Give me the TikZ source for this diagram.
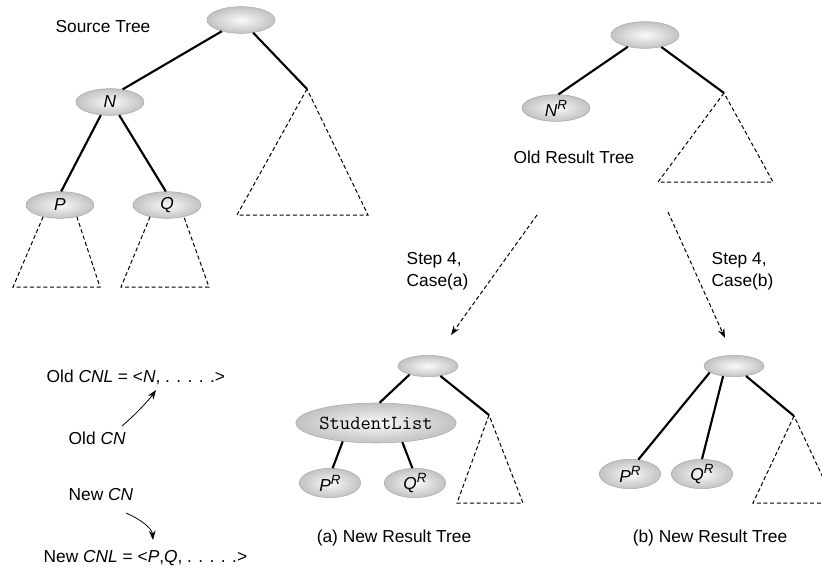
\documentclass[tikz,border=0pt]{standalone}
\usepackage{fontspec}
\setmainfont{Liberation Sans}
\usepackage{tikz}
\usetikzlibrary{shapes.geometric,arrows.meta}

\newcommand{\rsup}[1]{\raisebox{0.75ex}{\fontsize{10}{10}\selectfont #1}}

\tikzset{
  tnode/.style={ellipse, draw=gray!65, line width=0.4pt, inner color=gray!4, outer color=gray!48,
    minimum width=51pt, minimum height=20pt, inner sep=0pt, font=\fontsize{13}{15}\selectfont\itshape},
  rnode/.style={tnode, minimum width=46pt, minimum height=22pt},
  snode/.style={tnode, minimum width=45pt, minimum height=16pt},
  tedge/.style={line width=1.6pt},
  subtree/.style={line width=0.75pt, dash pattern=on 3pt off 2pt},
  steparrow/.style={subtree, ->},
  cnarrow/.style={line width=0.6pt, ->}
}

\begin{document}
\begin{tikzpicture}[x=0.75pt, y=-0.75pt, >={Stealth[length=7pt,width=5pt]}, font=\fontsize{13}{16.5}\selectfont]
\useasboundingbox (0,0) rectangle (822,571);
\clip (0,0) rectangle (822,571);

% source tree
\node (srclabel) at (103,27) {Source Tree};
\node [tnode] (sroot) at (241,20) {};
\node [tnode] (sN) at (110,102) {N};
\node [tnode] (sP) at (60,205) {P};
\node [tnode] (sQ) at (167,205) {Q};
\coordinate (sR) at (307,89);
\draw [tedge] (sroot) -- (sN.45);
\draw [tedge] (sroot) -- (sR);
\draw [tedge] (sN.235) -- (sP.85);
\draw [tedge] (sN.305) -- (sQ.95);
\draw [subtree] (sR) -- (237,215) -- (368,215) -- cycle;
\draw [subtree] (sP.215) -- (13,287) -- (100,287) -- (sP.325);
\draw [subtree] (sQ.215) -- (121,287) -- (209,287) -- (sQ.325);

% old result tree
\node [tnode] (oroot) at (645,35) {};
\node [tnode] (oN) at (556,108) {N\rsup{R}};
\coordinate (oR) at (724,93);
\draw [tedge] (oroot) -- (oN.80);
\draw [tedge] (oroot) -- (oR);
\draw [subtree] (oR) -- (658,182) -- (773,182) -- cycle;
\node (oldlabel) at (574,157) {Old Result Tree};

% step 4 arrows
\coordinate (stepa1) at (537,215);
\coordinate (stepa2) at (451,335);
\coordinate (stepb1) at (668,212);
\coordinate (stepb2) at (725,338);
\draw [steparrow] (stepa1) -- (stepa2);
\draw [steparrow] (stepb1) -- (stepb2);
\node [anchor=west, align=left] (casea) at (402,271) {Step 4,\\Case(a)};
\node [anchor=west, align=left] (caseb) at (707,271) {Step 4,\\Case(b)};

% (a) new result tree
\node [snode] (aroot) at (428,366) {};
\node [tnode, minimum width=106pt, minimum height=30pt, font=\fontsize{15}{18}\selectfont\ttfamily] (alist) at (376,423) {StudentList};
\node [rnode] (aP) at (330,483) {P\rsup{R}};
\node [rnode] (aQ) at (415,483) {Q\rsup{R}};
\coordinate (aR) at (489,415);
\draw [tedge] (aroot.205) -- (alist.80);
\draw [tedge] (aroot) -- (aR);
\draw [tedge] (alist.209) -- (aP.80);
\draw [tedge] (alist.324) -- (aQ.100);
\draw [subtree] (aR) -- (457,503) -- (523,503) -- cycle;
\node (alabel) at (394,538) {(a) New Result Tree};

% (b) new result tree
\node [snode] (broot) at (734,366) {};
\node [rnode] (bP) at (630,474) {P\rsup{R}};
\node [rnode] (bQ) at (702,474) {Q\rsup{R}};
\coordinate (bR) at (794,416);
\draw [tedge] (broot.195) -- (bP.60);
\draw [tedge] (broot.223) -- (bQ.90);
\draw [tedge] (broot) -- (bR);
\draw [subtree] (bR) -- (753,503) -- (835,503) -- cycle;
\node (blabel) at (710,538) {(b) New Result Tree};

% candidate node lists
\node [anchor=west] (oldcnl) at (42,377) {Old \textit{CNL} = <\textit{N}, . . . . .>};
\node [anchor=west] (oldcn) at (64,438) {Old \textit{CN}};
\node [anchor=west] (newcn) at (64,495) {New \textit{CN}};
\node [anchor=west] (newcnl) at (39,558) {New \textit{CNL} = <\textit{P},\textit{Q}, . . . . .>};
\coordinate (oldtail) at (122,426);
\coordinate (oldhead) at (156,390);
\coordinate (newtail) at (126,513);
\coordinate (newhead) at (153,540);
\draw [cnarrow] (oldtail) .. controls (134,416) and (149,400) .. (oldhead);
\draw [cnarrow] (newtail) .. controls (140,519) and (152,528) .. (newhead);
\end{tikzpicture}
\end{document}
